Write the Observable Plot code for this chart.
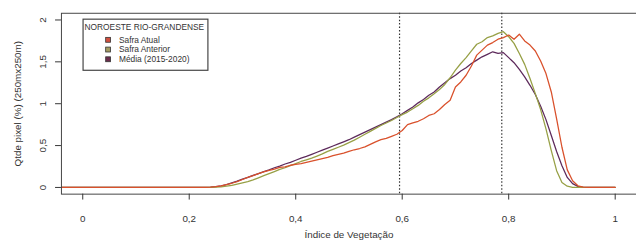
<!DOCTYPE html>
<html><head><meta charset="utf-8">
<script src="https://cdn.jsdelivr.net/npm/d3@7"></script>
<script src="https://cdn.jsdelivr.net/npm/@observablehq/plot@0.6"></script>
<style>
html,body{margin:0;padding:0;overflow:hidden;background:#fff;}
#chart{position:relative;width:636px;height:249px;overflow:hidden;}
</style></head><body><div id="chart"></div>
<script>
const xValues = [-0.04, 0, 0.1, 0.2,
  0.21, 0.22, 0.23, 0.24, 0.25, 0.26, 0.27, 0.28, 0.29, 0.30,
  0.31, 0.32, 0.33, 0.34, 0.35, 0.36, 0.37, 0.38, 0.39, 0.40,
  0.41, 0.42, 0.43, 0.44, 0.45, 0.46, 0.47, 0.48, 0.49, 0.50,
  0.51, 0.52, 0.53, 0.54, 0.55, 0.56, 0.57, 0.58, 0.59, 0.60,
  0.61, 0.62, 0.63, 0.64, 0.65, 0.66, 0.67, 0.68, 0.69, 0.70,
  0.71, 0.72, 0.73, 0.74, 0.75, 0.76, 0.77, 0.78, 0.79, 0.80,
  0.81, 0.82, 0.83, 0.84, 0.85, 0.86, 0.87, 0.88, 0.89, 0.90,
  0.91, 0.92, 0.93, 0.94, 0.95, 0.96, 0.97, 0.98, 0.99, 1.00];

const safraAtual = [0, 0, 0, 0,
  0, 0, 0.002, 0.005, 0.01, 0.02, 0.035, 0.05, 0.07, 0.095,
  0.12, 0.14, 0.165, 0.185, 0.205, 0.22, 0.24, 0.245, 0.265, 0.275,
  0.285, 0.30, 0.315, 0.33, 0.345, 0.36, 0.38, 0.395, 0.41, 0.43,
  0.45, 0.465, 0.485, 0.515, 0.545, 0.57, 0.585, 0.61, 0.635, 0.68,
  0.75, 0.77, 0.79, 0.82, 0.86, 0.88, 0.93, 0.99, 1.04, 1.20,
  1.26, 1.34, 1.45, 1.58, 1.64, 1.70, 1.73, 1.77, 1.79, 1.82,
  1.77, 1.83, 1.75, 1.70, 1.63, 1.51, 1.36, 1.14, 0.82, 0.48,
  0.21, 0.08, 0.02, 0.004, 0, 0, 0, 0, 0, 0];

const safraAnterior = [0, 0, 0, 0,
  0, 0, 0, 0.002, 0.004, 0.008, 0.015, 0.025, 0.04, 0.055,
  0.07, 0.09, 0.115, 0.14, 0.165, 0.19, 0.215, 0.235, 0.26, 0.285,
  0.31, 0.33, 0.35, 0.375, 0.40, 0.43, 0.455, 0.48, 0.505, 0.535,
  0.565, 0.60, 0.635, 0.67, 0.705, 0.74, 0.77, 0.80, 0.835, 0.87,
  0.90, 0.94, 0.98, 1.03, 1.07, 1.12, 1.17, 1.23, 1.31, 1.40,
  1.48, 1.55, 1.63, 1.71, 1.74, 1.79, 1.81, 1.84, 1.86, 1.80,
  1.72, 1.60, 1.47, 1.30, 1.12, 0.93, 0.70, 0.44, 0.20, 0.06,
  0.015, 0.002, 0, 0, 0, 0, 0, 0, 0, 0];

const media = [0, 0, 0, 0,
  0, 0, 0.002, 0.005, 0.01, 0.02, 0.035, 0.055, 0.075, 0.10,
  0.12, 0.145, 0.165, 0.19, 0.21, 0.235, 0.255, 0.28, 0.30, 0.325,
  0.35, 0.37, 0.395, 0.42, 0.445, 0.47, 0.495, 0.52, 0.545, 0.57,
  0.60, 0.63, 0.66, 0.69, 0.72, 0.75, 0.78, 0.81, 0.845, 0.88,
  0.92, 0.96, 1.01, 1.05, 1.10, 1.14, 1.20, 1.25, 1.30, 1.34,
  1.39, 1.43, 1.48, 1.52, 1.56, 1.59, 1.62, 1.60, 1.61, 1.55,
  1.49, 1.41, 1.32, 1.22, 1.11, 0.97, 0.81, 0.62, 0.43, 0.26,
  0.12, 0.045, 0.012, 0.002, 0, 0, 0, 0, 0, 0];

const seriesNames = ["Safra Atual", "Safra Anterior", "Média (2015-2020)"];
const seriesColors = ["#d9512c", "#97a046", "#5e2b5c"];
const legendFills = ["#d0503f", "#a39b62", "#6b2d4c"];
const legendTitle = "NOROESTE RIO-GRANDENSE";
const refLines = [0.595, 0.787];
const xTicks = [0, 0.2, 0.4, 0.6, 0.8, 1];
const yTicks = [0, 0.5, 1, 1.5, 2];
const xLabel = "Índice de Vegetação";
const yLabel = "Qtde pixel (%) (250mx250m)";

const fmt = d => String(d).replace(".", ",");
const seriesValues = [safraAtual, safraAnterior, media];
const drawOrder = [2, 1, 0];
const rows = [];
drawOrder.forEach(i => {
  xValues.forEach((x, j) => rows.push({serie: seriesNames[i], x, y: seriesValues[i][j]}));
});

const plot = Plot.plot({
  width: 647, height: 249,
  marginLeft: 62, marginRight: 0, marginTop: 13, marginBottom: 52,
  style: {fontFamily: "'Liberation Sans', Arial, sans-serif", fontSize: "10px", color: "#333", background: "#fff", overflow: "hidden"},
  x: {domain: [-0.04, 1.04]},
  y: {domain: [-0.08, 2.08]},
  color: {domain: seriesNames, range: seriesColors},
  marks: [
    Plot.ruleX(refLines, {stroke: "#333", strokeDasharray: "1.5,2", strokeWidth: 1.2}),
    Plot.line(rows, {x: "x", y: "y", z: "serie", stroke: "serie", strokeWidth: 1.3, clip: true}),
    Plot.frame({stroke: "#444"}),
    Plot.axisX({ticks: xTicks, tickSize: 6, tickPadding: 15, tickFormat: fmt, label: null}),
    Plot.axisY({ticks: yTicks, tickSize: 6, tickFormat: () => "", label: null}),
    Plot.text(yTicks, {y: d => d, text: fmt, frameAnchor: "left", dx: -19, rotate: -90, textAnchor: "middle", lineAnchor: "middle"}),
    Plot.text([xLabel], {frameAnchor: "bottom", dy: 41, text: d => d, textAnchor: "middle", lineAnchor: "middle"}),
    Plot.text([yLabel], {frameAnchor: "left", dx: -44, rotate: -90, text: d => d, textAnchor: "middle", lineAnchor: "middle"})
  ]
});

// legend inset
const svg = d3.select(plot);
const g = svg.append("g").attr("font-family", "'Liberation Sans', Arial, sans-serif")
  .attr("font-size", "8.5px").attr("text-anchor", "start");
g.append("rect").attr("x", 84.5).attr("y", 19.5).attr("width", 127).attr("height", 52)
  .attr("fill", "#fff").attr("stroke", "#444").attr("stroke-width", 1.2);
g.append("text").attr("x", 86).attr("y", 27.7).attr("dy", "0.35em").attr("fill", "#333").text(legendTitle);
const rowY = [40.5, 50.4, 60.3];
seriesNames.forEach((name, i) => {
  g.append("rect").attr("x", 107.5).attr("y", rowY[i] - 2.5).attr("width", 5).attr("height", 5)
    .attr("fill", legendFills[i]).attr("stroke", "#333").attr("stroke-width", 0.8);
  g.append("text").attr("x", 121).attr("y", rowY[i]).attr("dy", "0.35em").attr("fill", "#333").text(name);
});

document.getElementById("chart").appendChild(plot);
</script></body></html>
